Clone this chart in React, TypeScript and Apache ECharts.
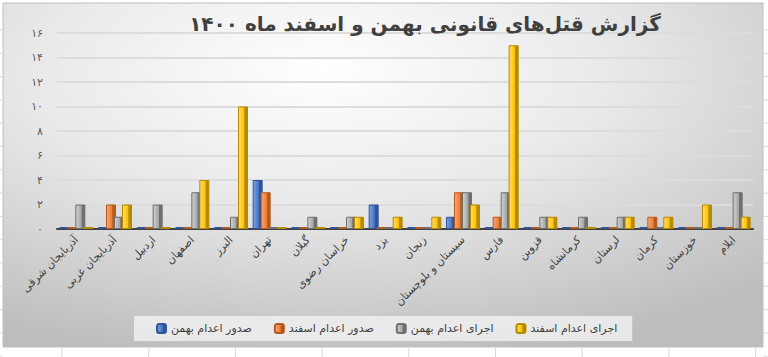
import React, { useEffect, useRef } from "react";
import * as echarts from "echarts";

const titleText = "گزارش قتل‌های قانونی بهمن و اسفند ماه ۱۴۰۰";

const categories = [
  "آذربایجان شرقی",
  "آذربایجان غربی",
  "اردبیل",
  "اصفهان",
  "البرز",
  "تهران",
  "گیلان",
  "خراسان رضوی",
  "یزد",
  "زنجان",
  "سیستان و بلوچستان",
  "فارس",
  "قزوین",
  "کرمانشاه",
  "لرستان",
  "کرمان",
  "خوزستان",
  "ایلام",
];

const seriesNames = ["صدور اعدام بهمن", "صدور اعدام اسفند", "اجرای اعدام بهمن", "اجرای اعدام اسفند"];

const sodoorBahman = [0, 0, 0, 0, 0, 4, 0, 0, 2, 0, 1, 0, 0, 0, 0, 0, 0, 0];
const sodoorEsfand = [0, 2, 0, 0, 0, 3, 0, 0, 0, 0, 3, 1, 0, 0, 0, 1, 0, 0];
const ejraBahman = [2, 1, 2, 3, 1, 0, 1, 1, 0, 0, 3, 3, 1, 1, 1, 0, 0, 3];
const ejraEsfand = [0, 2, 0, 4, 10, 0, 0, 1, 1, 1, 2, 15, 1, 0, 1, 1, 2, 1];

const yTickLabels = ["۰", "۲", "۴", "۶", "۸", "۱۰", "۱۲", "۱۴", "۱۶"];

const palette = [
  { light: "#7fa3e0", base: "#4472C4", dark: "#2F5597" },
  { light: "#f6a77a", base: "#ED7D31", dark: "#B45A1E" },
  { light: "#d2d2d2", base: "#A5A5A5", dark: "#6f6f6f" },
  { light: "#ffe06a", base: "#FFC000", dark: "#B48A00" },
];

const FONT = "'DejaVu Sans', sans-serif";

export default function App() {
  const ref = useRef<HTMLDivElement>(null);

  useEffect(() => {
    if (!ref.current) return;
    const chart = echarts.init(ref.current, undefined, { renderer: "svg" });
    const values = [sodoorBahman, sodoorEsfand, ejraBahman, ejraEsfand];

    const bgGraphics: any[] = [];
    bgGraphics.push({
      type: "rect",
      z: -100,
      shape: { x: 3, y: 3, width: 760, height: 344 },
      style: {
        fill: new echarts.graphic.RadialGradient(0.42, 0.2, 0.85, [
          { offset: 0, color: "#ffffff" },
          { offset: 0.45, color: "#e9e9e9" },
          { offset: 1, color: "#bdbdbd" },
        ]),
        stroke: "#bfbfbf",
        lineWidth: 1,
      },
    });
    // excel sheet grid lines visible outside the chart panel
    for (let i = 0; i < 15; i++) {
      const y = 30 + i * 23.3;
      bgGraphics.push({ type: "line", z: -100, shape: { x1: 0, y1: y, x2: 2.5, y2: y }, style: { stroke: "#d9d9d9", lineWidth: 1 } });
      bgGraphics.push({ type: "line", z: -100, shape: { x1: 763.5, y1: y, x2: 768, y2: y }, style: { stroke: "#d9d9d9", lineWidth: 1 } });
    }
    for (let i = 0; i < 9; i++) {
      const x = 62 + i * 86.7;
      bgGraphics.push({ type: "line", z: -100, shape: { x1: x, y1: 347.5, x2: x, y2: 357 }, style: { stroke: "#d9d9d9", lineWidth: 1 } });
    }

    chart.setOption({
      animation: false,
      textStyle: { fontFamily: FONT },
      title: {
        text: titleText,
        left: 420,
        textAlign: "center",
        top: 9,
        textStyle: { fontFamily: FONT, fontSize: 20, fontWeight: "bold", color: "#404040" },
      },
      graphic: bgGraphics,
      legend: {
        data: seriesNames,
        left: 134,
        top: 316,
        itemWidth: 9,
        itemHeight: 9,
        itemGap: 22,
        padding: [7, 15, 7, 22],
        backgroundColor: "rgba(240,240,240,0.85)",
        textStyle: { fontFamily: FONT, fontSize: 11, color: "#404040" },
      },
      grid: { left: 57, right: 15, top: 33, bottom: 128, containLabel: false },
      xAxis: {
        type: "category",
        data: categories,
        axisLine: { lineStyle: { color: "#404040", width: 2 } },
        axisTick: { show: false },
        axisLabel: { interval: 0, rotate: 45, margin: 9, fontSize: 11, color: "#404040", fontFamily: FONT },
      },
      yAxis: {
        type: "value",
        min: 0,
        max: 16,
        interval: 2,
        axisLine: { show: false },
        axisTick: { show: false },
        axisLabel: {
          margin: 14,
          fontSize: 11,
          color: "#595959",
          fontFamily: FONT,
          formatter: (v: number) => yTickLabels[Math.round(v / 2)] ?? "",
        },
        splitLine: { lineStyle: { color: "#dcdcdc", width: 2 } },
      },
      series: seriesNames.map((name, i) => ({
        name,
        type: "bar",
        data: values[i],
        barWidth: 10,
        barGap: "-20%",
        barMinHeight: 2,
        itemStyle: {
          color: new echarts.graphic.LinearGradient(0, 0, 1, 0, [
            { offset: 0, color: palette[i].light },
            { offset: 0.6, color: palette[i].base },
            { offset: 0.7, color: palette[i].dark },
            { offset: 1, color: palette[i].dark },
          ]),
          borderColor: palette[i].dark,
          borderWidth: 1,
        },
      })),
      color: palette.map((p) => p.base),
    });
    return () => chart.dispose();
  }, []);

  return (
    <div
      ref={ref}
      style={{ position: "fixed", left: 0, top: 0, width: 768, height: 357, background: "#ffffff" }}
    />
  );
}
